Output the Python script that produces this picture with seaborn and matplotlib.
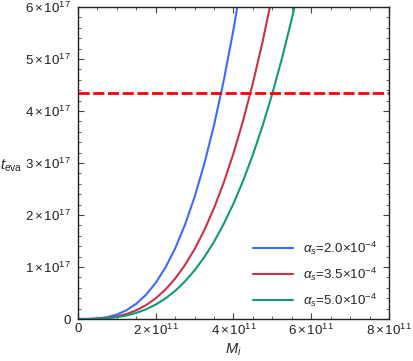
import numpy as np
import pandas as pd
import matplotlib
matplotlib.use("Agg")
import matplotlib.pyplot as plt
import seaborn as sns
from matplotlib.ticker import MultipleLocator

# M_i in units of 1e11, t_eva in units of 1e17
m_blue = [0, 0.25, 0.5, 0.75, 1, 1.25, 1.5, 1.75, 2, 2.25, 2.5, 2.75, 3, 3.25, 3.5, 3.75, 4, 4.25]
t_blue = [0, 0.001, 0.011, 0.037, 0.087, 0.170, 0.294, 0.466, 0.696, 0.991, 1.359, 1.809,
          2.349, 2.987, 3.730, 4.588, 5.568, 6.679]

m_red = [0, 0.25, 0.5, 0.75, 1, 1.25, 1.5, 1.75, 2, 2.25, 2.5, 2.75, 3, 3.25, 3.5, 3.75, 4,
         4.25, 4.5, 4.75, 5.0]
t_red = [0, 0.001, 0.006, 0.021, 0.050, 0.097, 0.168, 0.267, 0.398, 0.567, 0.778, 1.036,
         1.345, 1.710, 2.135, 2.626, 3.187, 3.823, 4.538, 5.337, 6.225]

m_green = [0, 0.25, 0.5, 0.75, 1, 1.25, 1.5, 1.75, 2, 2.25, 2.5, 2.75, 3, 3.25, 3.5, 3.75, 4,
           4.25, 4.5, 4.75, 5.0, 5.25, 5.5, 5.75]
t_green = [0, 0.001, 0.004, 0.015, 0.035, 0.068, 0.117, 0.186, 0.278, 0.395, 0.542, 0.722,
           0.937, 1.191, 1.488, 1.830, 2.221, 2.664, 3.162, 3.719, 4.338, 5.021, 5.774, 6.597]

labels = [r"$\alpha_s$=2.0×10$^{-4}$", r"$\alpha_s$=3.5×10$^{-4}$", r"$\alpha_s$=5.0×10$^{-4}$"]
colors = ["#3d6bff", "#cc3149", "#0f9a7a"]
t_universe = 4.35  # 1e17

x_ticks = [0, 2, 4, 6, 8]
x_ticklabels = ["0"] + [r"%d$\,$×$\,$10$^{11}$" % v for v in x_ticks[1:]]
y_ticks = [0, 1, 2, 3, 4, 5, 6]
y_ticklabels = ["0"] + [r"%d$\,$×$\,$10$^{17}$" % v for v in y_ticks[1:]]

sns.set_style("ticks")
plt.rcParams["font.family"] = ["Liberation Sans", "DejaVu Sans"]
plt.rcParams["mathtext.fontset"] = "custom"
plt.rcParams["mathtext.rm"] = "Liberation Sans"
plt.rcParams["mathtext.it"] = "Liberation Sans:italic"

df = pd.concat([
    pd.DataFrame({"M": m_blue, "t": t_blue, "curve": labels[0]}),
    pd.DataFrame({"M": m_red, "t": t_red, "curve": labels[1]}),
    pd.DataFrame({"M": m_green, "t": t_green, "curve": labels[2]}),
])

fig = plt.figure(figsize=(4.14, 3.61), dpi=100)
ax = fig.add_axes([0.1884, 0.1163, 0.7512, 0.8643])

sns.lineplot(data=df, x="M", y="t", hue="curve", palette=colors, linewidth=1.5,
             sort=False, ax=ax)
ax.axhline(t_universe, color="#ff0000", linestyle=(0, (4, 1.3)), linewidth=2)

ax.set_xlim(0, 8)
ax.set_ylim(0, 6)
ax.set_xticks(x_ticks)
ax.set_xticklabels(x_ticklabels)
ax.set_yticks(y_ticks)
ax.set_yticklabels(y_ticklabels)
ax.xaxis.set_minor_locator(MultipleLocator(0.5))
ax.yaxis.set_minor_locator(MultipleLocator(0.2))
ax.tick_params(which="both", direction="in", top=True, right=True, labelsize=9.6,
               color="#444444", labelcolor="#222222")
ax.tick_params(which="major", length=4, width=0.8)
ax.tick_params(which="minor", length=2, width=0.6)
ax.tick_params(axis="x", which="major", pad=3)
ax.tick_params(axis="y", which="major", pad=5)
for s in ax.spines.values():
    s.set_linewidth(1.0)
    s.set_color("#222222")

ax.set_xlabel(r"$M_i$", fontsize=10.5, labelpad=2)
ax.set_ylabel(r"$t_{\rm eva}$", fontsize=10.5, rotation=0, va="center", ha="left")
ax.yaxis.set_label_coords(-0.251, 0.49)

leg = ax.legend(loc="lower right", frameon=False, fontsize=9.6, handlelength=3.0,
                handletextpad=0.7, labelspacing=0.65, bbox_to_anchor=(1.0, -0.005))
for line in leg.get_lines():
    line.set_linewidth(1.5)

fig.savefig("out.png", dpi=100)
